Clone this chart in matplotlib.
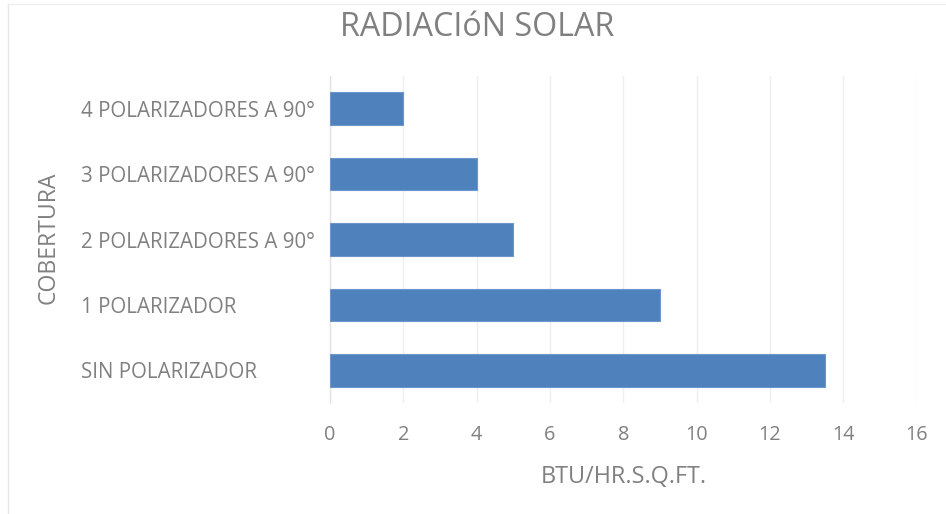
import matplotlib
matplotlib.use("Agg")
import matplotlib.pyplot as plt
from matplotlib.lines import Line2D

categories = ["SIN POLARIZADOR", "1 POLARIZADOR", "2 POLARIZADORES A 90°",
              "3 POLARIZADORES A 90°", "4 POLARIZADORES A 90°"]
values = [13.5, 9, 5, 4, 2]
x_ticks = [0, 2, 4, 6, 8, 10, 12, 14, 16]

title = "RADIACIóN SOLAR"
x_label = "BTU/HR.S.Q.FT."
y_label = "COBERTURA"

W, H = 946, 514
plt.rcParams["font.family"] = ["Open Sans", "DejaVu Sans"]
text_color = "#808080"

fig = plt.figure(figsize=(W / 100, H / 100), dpi=100)
fig.patch.set_facecolor("white")

# light outer frame of the chart area
fig.add_artist(Line2D([8 / W, 8 / W], [0, 1 - 4 / H], transform=fig.transFigure,
                      color="#E6E6E6", lw=1))
fig.add_artist(Line2D([8 / W, 1], [1 - 4 / H, 1 - 4 / H], transform=fig.transFigure,
                      color="#EEEEEE", lw=1))

left, right, top, bottom = 330, 916.7, 76, 403
ax = fig.add_axes([left / W, 1 - bottom / H, (right - left) / W, (bottom - top) / H])

ax.barh(range(len(categories)), values, height=0.5, color="#4F81BD",
        edgecolor="#6C96CC", linewidth=0.8, zorder=3)

ax.set_xlim(0, 16)
ax.set_ylim(-0.5, len(categories) - 0.5)
ax.set_xticks(x_ticks)
ax.set_xticklabels([str(t) for t in x_ticks])
ax.set_yticks(range(len(categories)))
ax.set_yticklabels(categories)

ax.grid(axis="x", color="#EFEFEF", lw=1, zorder=0)
for s in ["top", "right", "bottom"]:
    ax.spines[s].set_visible(False)
ax.spines["left"].set_color("#E3E3E3")
ax.spines["left"].set_linewidth(1)

ax.tick_params(axis="both", length=0, colors=text_color)
ax.tick_params(axis="x", pad=16, labelsize=14.3)
ax.tick_params(axis="y", pad=(left - 81) * 0.72, labelsize=14.8)
for lbl in ax.get_yticklabels():
    lbl.set_horizontalalignment("left")

fig.text(0.5 + 4 / W, 1 - 28 / H, title, ha="center", va="center",
         fontsize=23.2, color=text_color)
fig.text((left + right) / 2 / W, 1 - 477 / H, x_label, ha="center", va="center",
         fontsize=16.8, color=text_color)
fig.text(49 / W, 1 - 238 / H, y_label, ha="center", va="center", rotation=90,
         fontsize=16.6, color=text_color)

fig.savefig("out.png", dpi=100, facecolor="white")
